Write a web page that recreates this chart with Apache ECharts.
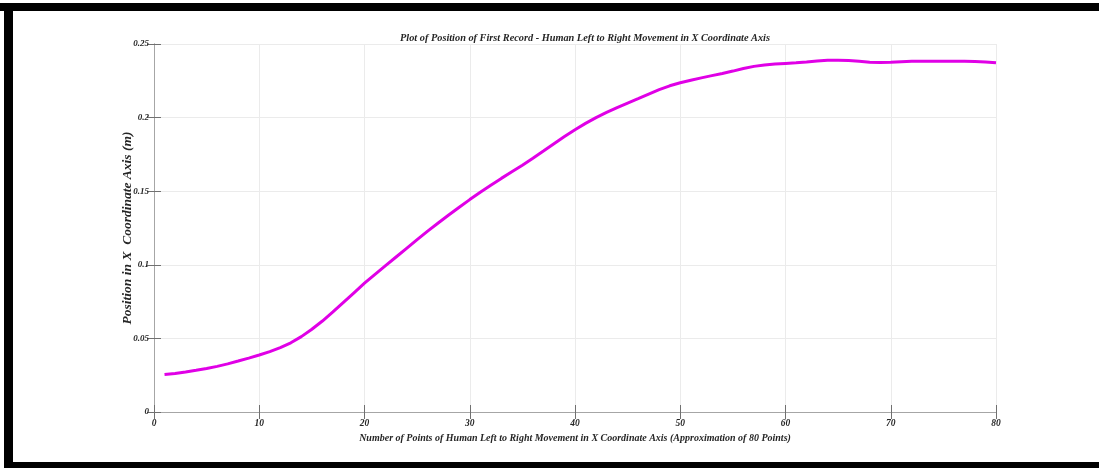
<!DOCTYPE html>
<html><head><meta charset="utf-8">
<script src="https://cdn.jsdelivr.net/npm/echarts@6/dist/echarts.min.js"></script>
<style>html,body{margin:0;padding:0;background:#fff}#c{width:1099px;height:468px}</style>
</head><body><div id="c"></div>
<script>
const titleText = "Plot of Position of First Record - Human Left to Right Movement in X Coordinate Axis";
const xAxisName = "Number of Points of Human Left to Right Movement in X Coordinate Axis (Approximation of 80 Points)";
const yAxisName = "Position in X  Coordinate Axis (m)";
const xTicks = [0,10,20,30,40,50,60,70,80];
const yTicks = [0,0.05,0.1,0.15,0.2,0.25];
const pointIndex = [1,2,3,4,5,6,7,8,9,10,11,12,13,14,15,16,17,18,19,20,21,22,23,24,25,26,27,28,29,30,31,32,33,34,35,36,37,38,39,40,41,42,43,44,45,46,47,48,49,50,51,52,53,54,55,56,57,58,59,60,61,62,63,64,65,66,67,68,69,70,71,72,73,74,75,76,77,78,79,80];
const positionX = [
0.0255,0.0262,0.0272,0.0283,0.0295,0.0310,0.0327,0.0346,0.0366,0.0387,
0.0410,0.0437,0.0470,0.0512,0.0562,0.0618,0.0680,0.0745,0.0810,0.0875,
0.0935,0.0994,0.1053,0.1112,0.1171,0.1229,0.1284,0.1338,0.1391,0.1443,
0.1493,0.1541,0.1587,0.1632,0.1677,0.1724,0.1773,0.1823,0.1872,0.1918,
0.1961,0.2000,0.2035,0.2068,0.2099,0.2129,0.2160,0.2190,0.2216,0.2237,
0.2254,0.2270,0.2285,0.2300,0.2316,0.2333,0.2348,0.2358,0.2364,0.2368,
0.2372,0.2377,0.2384,0.2389,0.2390,0.2388,0.2382,0.2376,0.2374,0.2376,
0.2380,0.2382,0.2383,0.2383,0.2383,0.2382,0.2382,0.2381,0.2378,0.2372];

const chart = echarts.init(document.getElementById('c'), null, {renderer:'canvas'});
const F = 'Liberation Serif, Times New Roman, serif';
const lbl = {fontFamily:F, fontStyle:'italic', fontWeight:'bold', color:'#262626'};
const axisCommon = {
  axisLine:{show:true, lineStyle:{color:'#a6a6a6', width:1}},
  axisTick:{show:true, inside:true, length:7, lineStyle:{color:'#707070', width:1}},
};
chart.setOption({
  animation:false,
  backgroundColor:'#fff',
  title:{text:titleText, left:580, textAlign:'center', top:28,
    textStyle:Object.assign({fontSize:10.3}, lbl)},
  grid:{left:154, right:103, top:44, bottom:56, show:false},
  graphic:[
    {type:'rect', shape:{x:0,y:3,width:1099,height:8}, style:{fill:'#000'}},
    {type:'rect', shape:{x:4,y:3,width:9,height:465}, style:{fill:'#000'}},
    {type:'rect', shape:{x:4,y:462,width:1095,height:6}, style:{fill:'#000'}}
  ],
  xAxis:[{
    type:'value', min:0, max:80, interval:10,
    name:xAxisName, nameLocation:'middle', nameGap:20,
    nameTextStyle:Object.assign({fontSize:10}, lbl),
    axisLabel:Object.assign({fontSize:9.5, margin:7, formatter:v=>xTicks.includes(v)?String(v):''}, lbl),
    splitLine:{show:true, lineStyle:{color:'#ebebeb', width:1}},
    ...axisCommon
  },{
    type:'value', min:0, max:80, interval:10, position:'top',
    axisLabel:{show:false}, splitLine:{show:false}, ...axisCommon
  }],
  yAxis:[{
    type:'value', min:0, max:0.25, interval:0.05,
    name:yAxisName, nameLocation:'middle', nameGap:19, nameMoveOverlap:false,
    nameTextStyle:Object.assign({fontSize:13.5}, lbl),
    axisLabel:Object.assign({fontSize:9, margin:5, formatter:v=>{const t=yTicks.find(y=>Math.abs(y-v)<1e-9);return t===undefined?'':String(t);}}, lbl),
    splitLine:{show:true, lineStyle:{color:'#ebebeb', width:1}},
    ...axisCommon
  },{
    type:'value', min:0, max:0.25, interval:0.05, position:'right',
    axisLabel:{show:false}, splitLine:{show:false}, ...axisCommon
  }],
  series:[{
    type:'line', xAxisIndex:0, yAxisIndex:0,
    data:pointIndex.map((x,i)=>[x, positionX[i]]),
    showSymbol:false, smooth:false,
    lineStyle:{color:'#e000e6', width:3}
  }]
});
</script></body></html>
